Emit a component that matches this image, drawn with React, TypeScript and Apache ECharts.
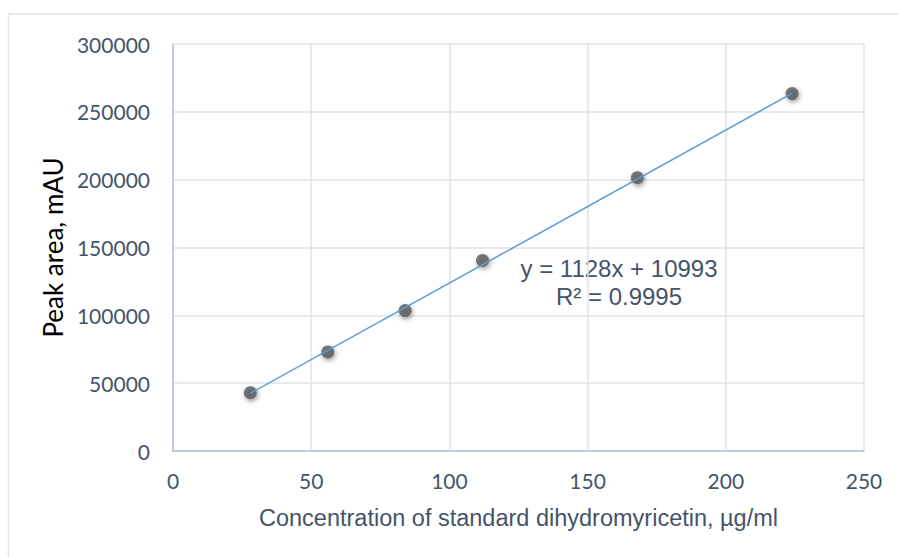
import React, { useEffect, useRef } from "react";
import * as echarts from "echarts";

const concentrations = [28, 56, 84, 112, 168, 224];
const peakAreas = [43000, 73000, 103500, 140500, 201500, 263500];
const trendSlope = 1128;
const trendIntercept = 10993;
const equationLines = ["y = 1128x + 10993", "R² = 0.9995"];
const xAxisTitle = "Concentration of standard dihydromyricetin, µg/ml";
const yAxisTitle = "Peak area, mAU";

export default function App() {
  const ref = useRef<HTMLDivElement>(null);
  useEffect(() => {
    document.body.style.margin = "0";
    if (!ref.current) return;
    const chart = echarts.init(ref.current, undefined, { renderer: "svg" });
    const xMin = concentrations[0];
    const xMax = concentrations[concentrations.length - 1];
    const trend = [
      [xMin, trendSlope * xMin + trendIntercept],
      [xMax, trendSlope * xMax + trendIntercept],
    ];
    const eqStyle = {
      fontFamily: "Liberation Sans",
      fontSize: 24,
      fill: "#44546a",
      align: "center",
      verticalAlign: "middle",
    };
    chart.setOption({
      animation: false,
      backgroundColor: "#ffffff",
      grid: { left: 173, right: 34, top: 44, bottom: 106, containLabel: false },
      xAxis: {
        type: "value",
        min: 0,
        max: 250,
        interval: 50,
        name: xAxisTitle,
        nameLocation: "middle",
        nameGap: 55,
        nameTextStyle: { fontFamily: "Liberation Sans", fontSize: 23.5, color: "#44546a" },
        axisLine: { show: true, lineStyle: { color: "#b4c2d8", width: 1.5 } },
        axisTick: { show: false },
        axisLabel: { fontFamily: "Lato", fontSize: 21, color: "#44546a", margin: 19 },
        splitLine: { show: true, lineStyle: { color: "#dfe3ea", width: 1.5 } },
      },
      yAxis: {
        type: "value",
        min: 0,
        max: 300000,
        interval: 50000,
        name: yAxisTitle,
        nameLocation: "middle",
        nameGap: 99,
        nameRotate: 90,
        nameTextStyle: { fontFamily: "Lato", fontSize: 26, color: "#000000" },
        axisLine: { show: true, lineStyle: { color: "#b4c2d8", width: 1.5 } },
        axisTick: { show: false },
        axisLabel: {
          fontFamily: "Lato",
          fontSize: 21,
          color: "#44546a",
          margin: 23,
          formatter: (v: number) => String(v),
        },
        splitLine: { show: true, lineStyle: { color: "#dfe3ea", width: 1.5 } },
      },
      graphic: [
        {
          type: "line",
          shape: { x1: 8, y1: 14, x2: 898, y2: 14 },
          style: { stroke: "#e2e5ea", lineWidth: 1.5 },
          silent: true,
        },
        {
          type: "line",
          shape: { x1: 8.5, y1: 14, x2: 8.5, y2: 557 },
          style: { stroke: "#e2e5ea", lineWidth: 1.5 },
          silent: true,
        },
        {
          type: "text",
          x: 619,
          y: 268,
          style: { text: equationLines[0], ...eqStyle },
          silent: true,
        },
        {
          type: "text",
          x: 619,
          y: 296,
          style: { text: equationLines[1], ...eqStyle },
          silent: true,
        },
      ],
      series: [
        {
          type: "line",
          data: trend,
          symbol: "none",
          lineStyle: { color: "#5b9bd5", width: 1.5 },
          z: 3,
        },
        {
          type: "scatter",
          data: concentrations.map((c, i) => [c, peakAreas[i]]),
          symbol: "circle",
          symbolSize: 13,
          itemStyle: {
            color: "#595959",
            shadowColor: "rgba(0,0,0,0.5)",
            shadowBlur: 5,
            shadowOffsetX: 1,
            shadowOffsetY: 2,
          },
          z: 2,
        },
      ],
    });
    return () => chart.dispose();
  }, []);
  return <div ref={ref} style={{ width: 898, height: 557 }} />;
}
